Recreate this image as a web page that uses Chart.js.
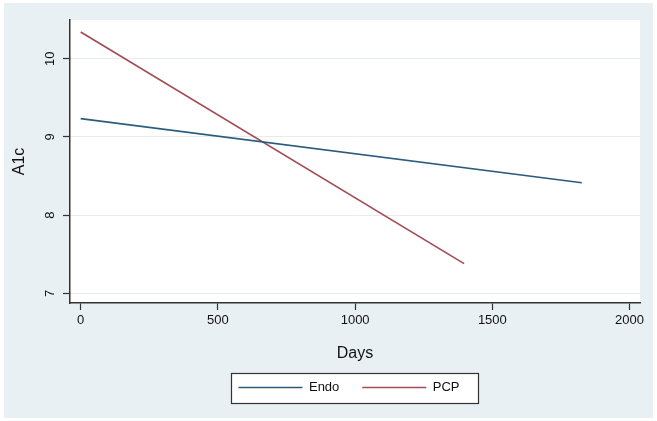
<!DOCTYPE html>
<html>
<head>
<meta charset="utf-8">
<script src="https://cdn.jsdelivr.net/npm/chart.js@4/dist/chart.umd.min.js"></script>
<style>
  html, body { margin: 0; padding: 0; background: #ffffff; }
  #wrap { width: 657px; height: 421px; }
</style>
</head>
<body>
<div id="wrap"><canvas id="c" width="657" height="421"></canvas></div>
<script>
// ---- data ----
const seriesNames = ['Endo', 'PCP'];
const endoDays = [0, 1826];
const endoA1c = [9.235, 8.415];
const pcpDays = [0, 1397];
const pcpA1c = [10.344, 7.38];
const xTicks = [0, 500, 1000, 1500, 2000];
const yTicks = [7, 8, 9, 10];
const xTitle = 'Days';
const yTitle = 'A1c';

const FONT = "'Liberation Sans', Arial, sans-serif";
const colors = ['#2b5b7d', '#a24c56'];

function pts(xs, ys) { return xs.map((x, i) => ({ x: x, y: ys[i] })); }

const framePlugin = {
  id: 'frame',
  afterLayout(chart) {
    const lg = chart.legend;
    if (lg) { lg.left += 29; lg.right += 29; lg.top -= 15; lg.bottom -= 15; }
  },
  beforeDraw(chart) {
    const ctx = chart.ctx;
    const a = chart.chartArea;
    ctx.save();
    ctx.fillStyle = '#ffffff';
    ctx.fillRect(0, 0, chart.width, chart.height);
    ctx.fillStyle = '#e8f0f4';
    ctx.fillRect(4, 3, 649, 415);
    ctx.fillStyle = '#ffffff';
    ctx.fillRect(a.left, a.top, a.right - a.left, a.bottom - a.top);
    const lg = chart.legend;
    if (lg && lg.legendHitBoxes && lg.legendHitBoxes.length) {
      const hb = lg.legendHitBoxes;
      const first = hb[0], last = hb[hb.length - 1];
      const c = first.top + first.height / 2;
      const l = Math.round(first.left - 7) + 0.5;
      const r = Math.round(last.left + last.width + 18) + 0.5;
      const t = Math.round(c - 15) + 0.5;
      const b = Math.round(c + 15) + 0.5;
      ctx.fillStyle = '#ffffff';
      ctx.fillRect(l, t, r - l, b - t);
      ctx.strokeStyle = '#333333';
      ctx.lineWidth = 1.2;
      ctx.strokeRect(l, t, r - l, b - t);
    }
    ctx.restore();
  }
};

new Chart(document.getElementById('c'), {
  type: 'line',
  data: {
    datasets: [
      { label: seriesNames[0], data: pts(endoDays, endoA1c), borderColor: colors[0], backgroundColor: colors[0] },
      { label: seriesNames[1], data: pts(pcpDays, pcpA1c), borderColor: colors[1], backgroundColor: colors[1] }
    ]
  },
  options: {
    responsive: false,
    animation: false,
    devicePixelRatio: 1,
    layout: { padding: { left: 0, top: 20, right: 17, bottom: 2 } },
    elements: {
      line: { borderWidth: 1.7, tension: 0, fill: false },
      point: { radius: 0, hoverRadius: 0 }
    },
    plugins: {
      tooltip: { enabled: false },
      legend: {
        position: 'bottom',
        align: 'center',
        labels: {
          boxWidth: 64,
          boxHeight: 1.5,
          padding: 23,
          color: '#111111',
          font: { family: FONT, size: 13 },
          generateLabels: (chart) => Chart.defaults.plugins.legend.labels.generateLabels(chart).map(l => Object.assign(l, { lineWidth: 0 }))
        }
      }
    },
    scales: {
      x: {
        type: 'linear',
        min: -39,
        max: 2038,
        afterBuildTicks: (s) => { s.ticks = xTicks.map(v => ({ value: v })); },
        afterFit: (s) => { s.height = 70; },
        grid: { drawOnChartArea: false, tickLength: 7, tickColor: '#333333', tickWidth: 1.2 },
        border: { color: '#333333', width: 1.5 },
        ticks: { color: '#111111', padding: 3, maxRotation: 0, minRotation: 0, font: { family: FONT, size: 13 }, callback: (v) => String(v) },
        title: { display: true, text: xTitle, color: '#111111', font: { family: FONT, size: 16 }, padding: { top: 0, bottom: 10 } }
      },
      y: {
        type: 'linear',
        min: 6.876,
        max: 10.497,
        afterBuildTicks: (s) => { s.ticks = yTicks.map(v => ({ value: v })); },
        afterFit: (s) => { s.width = 70; },
        grid: { color: '#e6ebec', lineWidth: 1, tickLength: 7, tickColor: '#333333', tickWidth: 1.2 },
        border: { color: '#333333', width: 1.5 },
        ticks: { color: '#111111', padding: 5, minRotation: 90, maxRotation: 90, crossAlign: 'center', font: { family: FONT, size: 13 }, callback: (v) => String(v) },
        title: { display: true, text: yTitle, color: '#111111', font: { family: FONT, size: 16 }, padding: { top: 10, bottom: 0 } }
      }
    }
  },
  plugins: [framePlugin]
});
</script>
</body>
</html>
